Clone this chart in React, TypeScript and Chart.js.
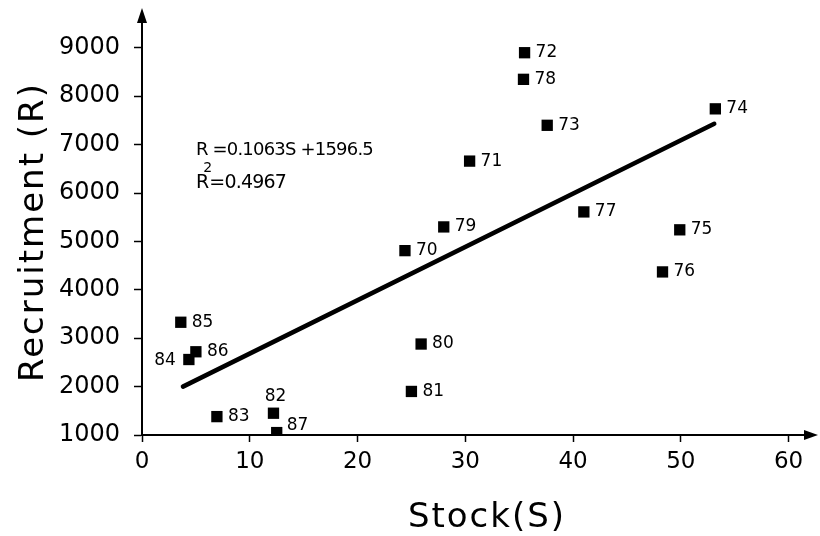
import React, { useEffect, useRef } from "react";
import { Chart, registerables } from "chart.js";

Chart.register(...registerables);

// ---- data ----
const years = ["70", "71", "72", "73", "74", "75", "76", "77", "78", "79", "80", "81", "82", "83", "84", "85", "86", "87"];
const stock = [24.4, 30.4, 35.5, 37.6, 53.2, 49.9, 48.3, 41.0, 35.4, 28.0, 25.9, 25.0, 12.2, 6.95, 4.35, 3.6, 5.0, 12.5];
const recruitment = [4810, 6660, 8900, 7400, 7740, 5240, 4370, 5610, 8350, 5300, 2880, 1900, 1450, 1380, 2560, 3330, 2720, 1050];
const trendStock = [3.8, 53.1];
const trendRecruitment = [2000, 7430];
const xTicks = [0, 10, 20, 30, 40, 50, 60];
const yTicks = [1000, 2000, 3000, 4000, 5000, 6000, 7000, 8000, 9000];
const equationLine = "R =0.1063S +1596.5";
const rSquaredValue = "=0.4967";
const xTitle = "Stock(S)";
const yTitle = "Recruitment (R)";
const labelsLeft = ["84"];
const labelsAbove = ["82"];
const labelsRaised = ["87"];

const FONT = "'DejaVu Sans', sans-serif";

const decorPlugin = {
  id: "decor",
  afterDatasetsDraw(chart: any) {
    const ctx = chart.ctx as CanvasRenderingContext2D;
    const meta = chart.getDatasetMeta(0);
    ctx.save();
    ctx.fillStyle = "#000";
    ctx.font = `17px ${FONT}`;
    ctx.textBaseline = "middle";
    meta.data.forEach((el: any, i: number) => {
      const y = years[i];
      if (labelsLeft.includes(y)) {
        ctx.textAlign = "right";
        ctx.fillText(y, el.x - 13, el.y + 1);
      } else if (labelsAbove.includes(y)) {
        ctx.textAlign = "center";
        ctx.fillText(y, el.x + 2, el.y - 17);
      } else if (labelsRaised.includes(y)) {
        ctx.textAlign = "left";
        ctx.fillText(y, el.x + 10, el.y - 7);
      } else {
        ctx.textAlign = "left";
        ctx.fillText(y, el.x + 11, el.y);
      }
    });
    ctx.restore();
  },
  afterDraw(chart: any) {
    const ctx = chart.ctx as CanvasRenderingContext2D;
    const { left, right, top, bottom } = chart.chartArea;
    ctx.save();
    ctx.fillStyle = "#000";
    // arrowheads
    ctx.beginPath();
    ctx.moveTo(left, top - 6);
    ctx.lineTo(left - 5, top + 9);
    ctx.lineTo(left + 5, top + 9);
    ctx.closePath();
    ctx.fill();
    ctx.beginPath();
    ctx.moveTo(right + 10, bottom);
    ctx.lineTo(right - 4, bottom - 5);
    ctx.lineTo(right - 4, bottom + 5);
    ctx.closePath();
    ctx.fill();

    // equation
    const xs = chart.scales.x;
    const ys = chart.scales.y;
    const ex = xs.getPixelForValue(5.0);
    const ey = ys.getPixelForValue(6890);
    ctx.font = `18px ${FONT}`;
    (ctx as any).letterSpacing = "-0.8px";
    ctx.textAlign = "left";
    ctx.textBaseline = "middle";
    ctx.fillText(equationLine, ex, ey);
    const ey2 = ey + 33;
    ctx.font = `19px ${FONT}`;
    ctx.fillText("R", ex, ey2);
    const rw = ctx.measureText("R").width;
    ctx.font = `14px ${FONT}`;
    ctx.fillText("2", ex + rw - 5, ey2 - 15);
    ctx.font = `19px ${FONT}`;
    ctx.fillText(rSquaredValue, ex + rw + 1, ey2);

    // axis titles
    (ctx as any).letterSpacing = "2px";
    ctx.font = `34px ${FONT}`;
    ctx.textAlign = "center";
    ctx.textBaseline = "middle";
    ctx.fillText(xTitle, 487, 518);
    ctx.translate(34, 232);
    ctx.rotate(-Math.PI / 2);
    ctx.fillText(yTitle, 0, 0);
    ctx.restore();
  },
};

export default function App() {
  const ref = useRef<HTMLCanvasElement | null>(null);
  useEffect(() => {
    if (!ref.current) return;
    const points = stock.map((s, i) => ({ x: s, y: recruitment[i] }));
    const trend = trendStock.map((s, i) => ({ x: s, y: trendRecruitment[i] }));
    const chart = new Chart(ref.current, {
      type: "scatter",
      data: {
        datasets: [
          {
            label: "Recruitment",
            data: points,
            pointStyle: "rect",
            pointRadius: 8,
            pointBackgroundColor: "#000",
            pointBorderWidth: 0,
            backgroundColor: "#000",
            borderColor: "#000",
            order: 1,
          },
          {
            label: "Regression",
            type: "line",
            data: trend,
            showLine: true,
            pointRadius: 0,
            borderWidth: 4.5,
            borderColor: "#000",
            borderCapStyle: "round",
            fill: false,
            order: 2,
          } as any,
        ],
      },
      options: {
        responsive: false,
        animation: false,
        layout: { padding: { top: 14, right: 12, left: 0, bottom: 0 } },
        plugins: { legend: { display: false }, tooltip: { enabled: false } },
        scales: {
          x: {
            type: "linear",
            min: 0,
            max: 61.8,
            afterBuildTicks: (axis: any) => {
              axis.ticks = xTicks.map((v) => ({ value: v }));
            },
            afterFit: (scale: any) => {
              scale.height = 101;
              scale.paddingLeft = 0;
              scale.paddingRight = 0;
            },
            grid: {
              display: true,
              drawOnChartArea: false,
              drawTicks: true,
              tickLength: 7,
              tickColor: "#000",
              tickWidth: 1.5,
              color: "#000",
            },
            border: { display: true, color: "#000", width: 2 },
            ticks: {
              color: "#000",
              font: { family: FONT, size: 23 },
              padding: 6,
              maxRotation: 0,
              autoSkip: false,
              callback: (v: any) => String(v),
            },
          },
          y: {
            type: "linear",
            min: 1000,
            max: 9700,
            afterBuildTicks: (axis: any) => {
              axis.ticks = yTicks.map((v) => ({ value: v }));
            },
            afterFit: (scale: any) => {
              scale.width = 142;
              scale.paddingTop = 0;
              scale.paddingBottom = 0;
            },
            grid: {
              display: true,
              drawOnChartArea: false,
              drawTicks: true,
              tickLength: 8,
              tickColor: "#000",
              tickWidth: 1.5,
              color: "#000",
            },
            border: { display: true, color: "#000", width: 2 },
            ticks: {
              color: "#000",
              font: { family: FONT, size: 24 },
              padding: 14,
              autoSkip: false,
              callback: (v: any) => String(v),
            },
          },
        },
      },
      plugins: [decorPlugin],
    } as any);
    return () => chart.destroy();
  }, []);

  return (
    <div style={{ position: "fixed", left: 0, top: 0, width: 820, height: 536, background: "#fff" }}>
      <canvas ref={ref} width={820} height={536} style={{ width: 820, height: 536, display: "block" }} />
    </div>
  );
}
